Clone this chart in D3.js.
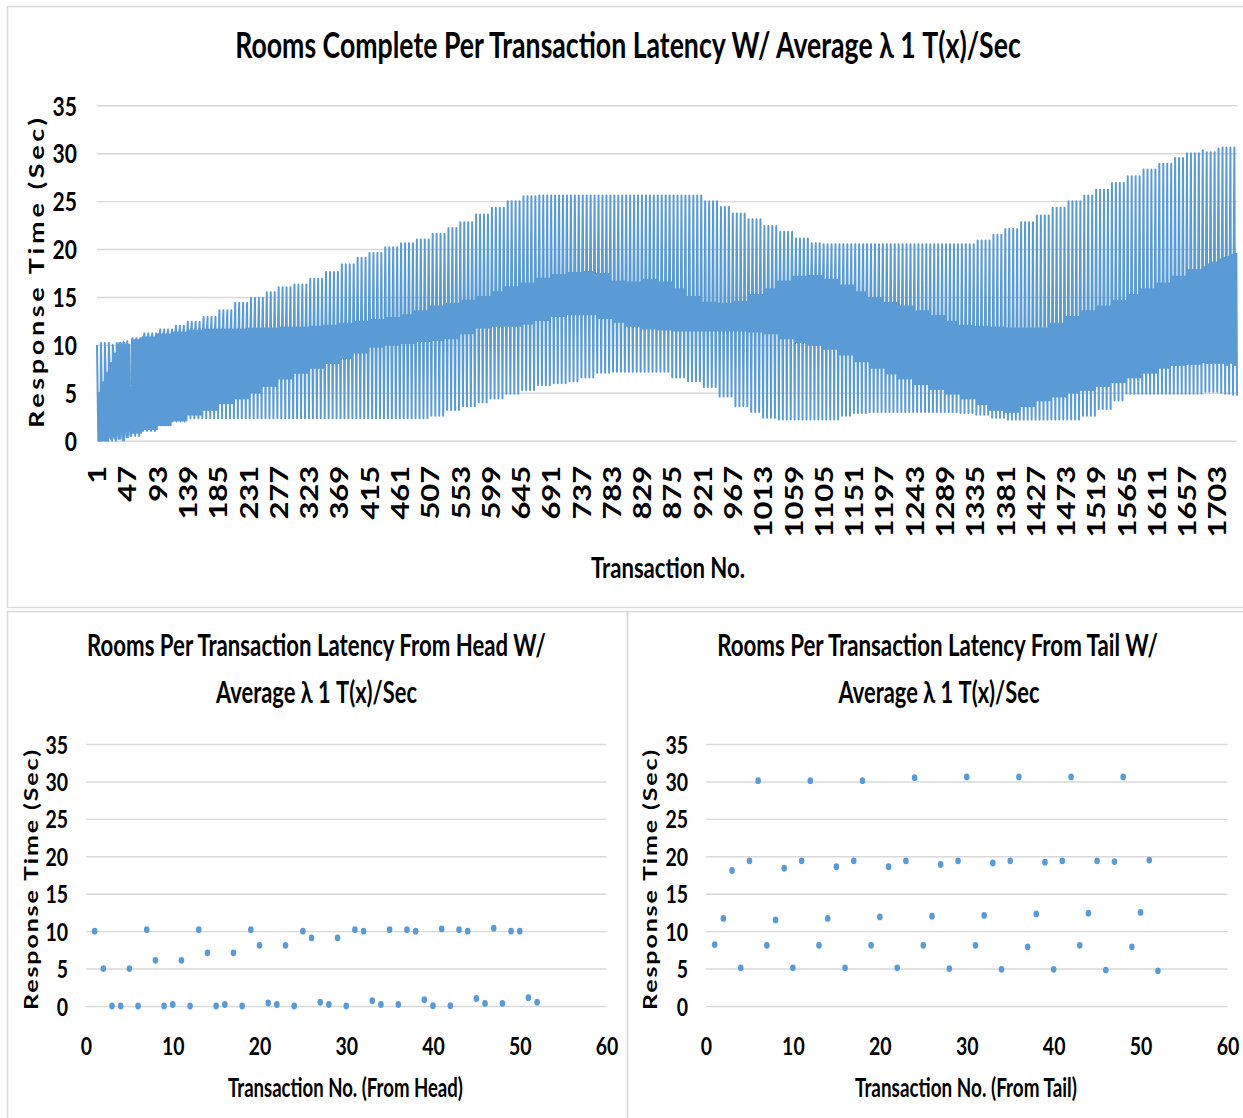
<!DOCTYPE html>
<html>
<head>
<meta charset="utf-8">
<script src="https://cdn.jsdelivr.net/npm/d3@7"></script>
<style>
  body { margin: 0; background: #fff; }
  svg { display: block; background: #fff; }
  text { font-family: Lato, "Open Sans", "DejaVu Sans", sans-serif; font-weight: 700; fill: #000; }
</style>
</head>
<body>
<svg id="chart" width="1243" height="1118"></svg>
<script>
// ---------------- data ----------------
const transactionCount = 1733;            // transactions in the full run
const strandBlock = 23;                   // transactions per sampled level below

// Response time (s) for the first 52 transactions (head of the queue)
const headLatency = [
  10.0, 5.0, 0.0, 0.0, 5.0, 0.0, 10.2, 6.1, 0.0, 0.2, 6.1, 0.0,
  10.2, 7.1, 0.0, 0.2, 7.1, 0.0, 10.2, 8.1, 0.4, 0.2, 8.1, 0.0,
  10.0, 9.1, 0.5, 0.2, 9.1, 0.0, 10.2, 10.0, 0.7, 0.2, 10.2, 0.2,
  10.2, 10.0, 0.85, 0.05, 10.3, 0.05, 10.2, 10.0, 1.0, 0.35, 10.4, 0.35,
  10.0, 10.0, 1.1, 0.5
];

// Response time (s) for the last 52 transactions (tail of the queue)
const tailLatency = [
  8.2, 11.7, 18.1, 5.1, 19.4, 30.1, 8.1, 11.5, 18.4, 5.1, 19.4, 30.1,
  8.1, 11.7, 18.6, 5.1, 19.4, 30.1, 8.1, 11.9, 18.6, 5.1, 19.4, 30.5,
  8.1, 12.0, 18.9, 5.0, 19.4, 30.6, 8.1, 12.1, 19.1, 4.9, 19.4, 30.6,
  7.9, 12.3, 19.2, 4.9, 19.4, 30.6, 8.1, 12.4, 19.4, 4.8, 19.3, 30.6,
  7.9, 12.5, 19.5, 4.7
];

// Between head and tail the run cycles through six request slots.
// Level of each slot, one value per block of 23 transactions (s).
const topStrand = [
  10.3, 10.3, 10.7, 11.2, 11.6, 12.0, 12.4, 12.9, 13.6, 14.4,
  14.9, 15.5, 16.0, 16.3, 16.9, 17.6, 18.4, 19.1, 19.6, 20.2,
  20.6, 21.0, 21.6, 22.2, 22.8, 23.6, 24.3, 25.0, 25.5, 25.6,
  25.6, 25.6, 25.6, 25.6, 25.6, 25.6, 25.6, 25.6, 25.6, 25.6,
  25.0, 24.4, 23.7, 23.1, 22.4, 21.8, 21.1, 20.6, 20.5, 20.5,
  20.5, 20.5, 20.5, 20.5, 20.5, 20.5, 20.5, 20.5, 20.9, 21.5,
  22.1, 22.8, 23.5, 24.3, 25.0, 25.6, 26.2, 26.9, 27.6, 28.3,
  28.9, 29.5, 30.0, 30.3, 30.4, 30.6
];
const upperEdge = [
  6.5, 10.0, 10.5, 10.8, 11.1, 11.3, 11.5, 11.6, 11.6, 11.6,
  11.7, 11.7, 11.8, 11.8, 11.9, 12.0, 12.2, 12.4, 12.6, 12.8,
  13.1, 13.5, 14.0, 14.3, 14.6, 15.0, 15.5, 16.0, 16.4, 16.9,
  17.3, 17.5, 17.6, 17.4, 16.6, 16.5, 16.8, 16.5, 15.8, 15.0,
  14.4, 14.3, 14.5, 15.2, 15.8, 16.6, 17.1, 17.2, 16.8, 16.2,
  15.5, 14.9, 14.4, 14.0, 13.5, 13.0, 12.4, 12.0, 11.9, 11.8,
  11.7, 11.7, 11.7, 12.2, 12.9, 13.5, 14.0, 14.6, 15.2, 15.8,
  16.4, 17.1, 17.8, 18.4, 19.0, 19.4
];
const middleBand = [
  3.4, 5.2, 5.6, 6.0, 6.3, 6.6, 7.1, 7.4, 7.7, 8.0,
  8.3, 8.7, 9.1, 9.4, 9.7, 10.0, 10.4, 10.8, 11.2, 11.4,
  11.6, 11.9, 12.2, 12.5, 12.9, 13.4, 13.7, 14.0, 14.3, 14.7,
  15.1, 15.3, 15.4, 15.1, 14.5, 14.2, 14.2, 14.0, 13.6, 13.2,
  12.9, 12.9, 13.0, 13.3, 13.5, 13.6, 13.7, 13.6, 13.2, 12.6,
  11.9, 11.2, 10.7, 10.2, 9.7, 9.2, 8.6, 8.2, 7.8, 7.5,
  7.3, 7.6, 7.9, 8.4, 8.9, 9.4, 9.8, 10.3, 10.9, 11.4,
  12.0, 12.0, 12.0, 12.2, 12.4, 12.5
];
const lowerEdge = [
  0.3, 0.5, 0.8, 1.2, 1.6, 2.0, 2.7, 3.2, 3.9, 4.4,
  5.0, 5.7, 6.5, 7.1, 7.6, 8.1, 8.6, 9.2, 9.8, 10.0,
  10.2, 10.4, 10.5, 10.7, 11.2, 11.8, 12.0, 12.0, 12.2, 12.6,
  13.0, 13.2, 13.2, 12.8, 12.4, 12.0, 11.7, 11.6, 11.5, 11.5,
  11.5, 11.5, 11.5, 11.4, 11.2, 10.7, 10.3, 10.0, 9.6, 9.0,
  8.3, 7.6, 7.0, 6.5, 5.9, 5.4, 4.9, 4.4, 3.8, 3.2,
  3.0, 3.6, 4.2, 4.6, 5.0, 5.3, 5.7, 6.1, 6.6, 7.1,
  7.6, 7.9, 8.0, 8.0, 8.0, 8.0
];
const bottomStrand = [
  0.0, 0.2, 0.5, 1.0, 1.6, 2.1, 2.35, 2.35, 2.35, 2.35,
  2.35, 2.35, 2.35, 2.35, 2.35, 2.35, 2.35, 2.35, 2.35, 2.35,
  2.35, 2.35, 2.6, 3.2, 3.6, 4.0, 4.4, 4.9, 5.3, 5.8,
  6.0, 6.2, 6.6, 7.1, 7.2, 7.2, 7.2, 7.2, 6.6, 6.2,
  5.6, 4.6, 3.6, 3.0, 2.4, 2.2, 2.2, 2.2, 2.2, 2.6,
  2.9, 3.0, 3.0, 3.0, 3.0, 3.0, 3.0, 2.9, 2.7, 2.4,
  2.2, 2.2, 2.2, 2.2, 2.2, 2.6, 3.3, 4.2, 4.9, 4.9,
  4.9, 4.9, 4.9, 4.9, 4.9, 4.8
];

// Axis tick labels
const latencyTicks = [0, 5, 10, 15, 20, 25, 30, 35];
const topTickLabels = [
  1, 47, 93, 139, 185, 231, 277, 323, 369, 415, 461, 507, 553, 599, 645,
  691, 737, 783, 829, 875, 921, 967, 1013, 1059, 1105, 1151, 1197, 1243,
  1289, 1335, 1381, 1427, 1473, 1519, 1565, 1611, 1657, 1703
];
const panelTicks = [0, 10, 20, 30, 40, 50, 60];

// ---------------- full series ----------------
const slotOrder = [topStrand, lowerEdge, middleBand, upperEdge, bottomStrand, upperEdge];
const transactions = d3.range(1, transactionCount + 1);
const fullLatency = transactions.map(n => {
  if (n <= headLatency.length) return headLatency[n - 1];
  const fromEnd = transactionCount - n;
  if (fromEnd < tailLatency.length) return tailLatency[tailLatency.length - 1 - fromEnd];
  return slotOrder[(n - 1) % 6][Math.floor((n - 1) / strandBlock)];
});

// ---------------- drawing ----------------
const BLUE = "#5b9bd5";
const GRID = "#d9d9d9";
const SQUASH = 0.78;
const svg = d3.select("#chart");

// panel frames
svg.append("rect").attr("x", 7.5).attr("y", 6.5).attr("width", 1240).attr("height", 601)
  .attr("fill", "none").attr("stroke", GRID).attr("stroke-width", 1.5);
svg.append("rect").attr("x", 7.5).attr("y", 611.5).attr("width", 620).attr("height", 520)
  .attr("fill", "none").attr("stroke", GRID).attr("stroke-width", 1.5);
svg.append("rect").attr("x", 627.5).attr("y", 611.5).attr("width", 620).attr("height", 520)
  .attr("fill", "none").attr("stroke", GRID).attr("stroke-width", 1.5);

// Text helper: horizontal titles are narrowed to a given width with a scale
// transform; rotated titles are spread along their length with textLength.
function label(text, x, y, o) {
  const t = svg.append("text")
    .attr("text-anchor", o.anchor || "middle")
    .style("font-size", o.size + "px")
    .text(text);
  if (o.rotate) {
    t.attr("transform", `translate(${x},${y}) scale(${SQUASH},1) rotate(-90)`);
    if (o.length) t.attr("textLength", o.length).attr("lengthAdjust", "spacing");
  } else {
    const natural = t.node().getComputedTextLength();
    const sx = o.length ? o.length / natural : 1;
    t.attr("transform", `translate(${x},${y}) scale(${sx},1)`);
  }
  return t;
}

function yAxis(y, x0, x1, gap, size) {
  const ax = svg.append("g").attr("transform", `translate(${x0},0)`)
    .call(d3.axisLeft(y).tickValues(latencyTicks).tickSize(-(x1 - x0)).tickFormat(d3.format("d")));
  ax.select(".domain").remove();
  ax.selectAll(".tick line").attr("stroke", GRID).attr("stroke-width", 1.4);
  ax.selectAll(".tick text")
    .attr("x", null).attr("dy", "0.36em")
    .attr("transform", `translate(${-gap},0) scale(${SQUASH},1)`)
    .style("font-size", size + "px").style("font-family", null).attr("fill", "#000");
  return ax;
}

// ---- top panel: all transactions ----
const topX = d3.scaleLinear().domain([1, transactionCount]).range([97, 1237]);
const topY = d3.scaleLinear().domain([0, 35]).range([440.7, 105.3]);

yAxis(topY, 97, 1237, 20, 27);

const topAxis = svg.append("g").attr("transform", `translate(0,${topY(0)})`)
  .call(d3.axisBottom(topX).tickValues(topTickLabels).tickSize(0).tickFormat(d3.format("d")));
topAxis.select(".domain").remove();
topAxis.selectAll(".tick text")
  .attr("x", null).attr("y", null).attr("dy", "0.36em")
  .attr("text-anchor", "end")
  .attr("transform", `translate(0,25) scale(${SQUASH},1) rotate(-90)`)
  .style("font-size", "31px").style("font-family", null).attr("fill", "#000");

svg.append("path")
  .datum(transactions)
  .attr("fill", "none")
  .attr("stroke", BLUE)
  .attr("stroke-width", 2)
  .attr("stroke-linejoin", "round")
  .attr("d", d3.line().x(n => topX(n)).y(n => topY(fullLatency[n - 1])));

label("Rooms Complete Per Transaction Latency W/ Average \u03bb 1 T(x)/Sec", 628, 58, { size: 36, length: 786 });
label("Response Time (Sec)", 44, 273, { size: 27, rotate: true, length: 310 });
label("Transaction No.", 668, 578, { size: 29, length: 154 });

// ---- bottom panels: head and tail scatter ----
function scatterPanel(values, x0, x1, title1, title2, t1, t2, xTitle, xt, yTitleX, tickGap) {
  const x = d3.scaleLinear().domain([0, 60]).range([x0, x1]);
  const y = d3.scaleLinear().domain([0, 35]).range([1006, 744]);
  yAxis(y, x0, x1, tickGap, 25);

  const ax = svg.append("g").attr("transform", `translate(0,${y(0)})`)
    .call(d3.axisBottom(x).tickValues(panelTicks).tickSize(0).tickFormat(d3.format("d")));
  ax.select(".domain").remove();
  ax.selectAll(".tick text")
    .attr("y", null).attr("dy", "0.71em")
    .attr("transform", `translate(0,31) scale(${SQUASH},1)`)
    .style("font-size", "25px").style("font-family", null).attr("fill", "#000");

  svg.append("g").selectAll("ellipse")
    .data(values)
    .join("ellipse")
    .attr("cx", (d, i) => x(i + 1))
    .attr("cy", d => y(d))
    .attr("rx", 2.8).attr("ry", 3.4)
    .attr("fill", BLUE);

  label(title1, t1.x, 656, { size: 30, length: t1.len });
  label(title2, t2.x, 703, { size: 30, length: t2.len });
  label(xTitle, xt.x, 1097, { size: 26, length: xt.len });
  label("Response Time (Sec)", yTitleX, 880, { size: 25, rotate: true, length: 260 });
}

scatterPanel(headLatency, 86, 606.5,
  "Rooms Per Transaction Latency From Head W/", "Average \u03bb 1 T(x)/Sec",
  { x: 316.5, len: 459 }, { x: 316.5, len: 201 },
  "Transaction No. (From Head)", { x: 345.5, len: 235 }, 38, 18);

scatterPanel(tailLatency, 706, 1227.5,
  "Rooms Per Transaction Latency From Tail W/", "Average \u03bb 1 T(x)/Sec",
  { x: 937.5, len: 441 }, { x: 939, len: 201 },
  "Transaction No. (From Tail)", { x: 966, len: 222 }, 657, 18);
</script>
</body>
</html>
